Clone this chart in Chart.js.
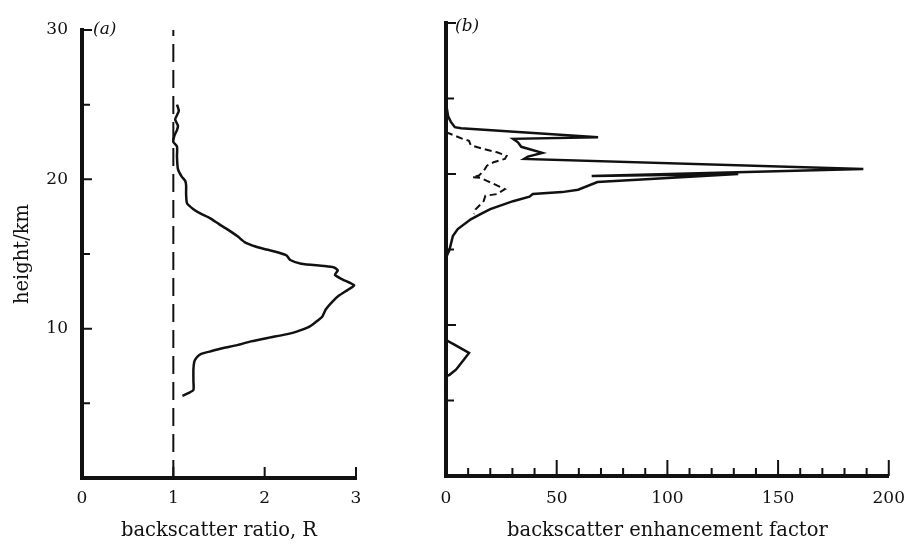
<!DOCTYPE html>
<html>
<head>
<meta charset="utf-8">
<script src="https://cdn.jsdelivr.net/npm/chart.js@4"></script>
<style>
  html, body { margin: 0; padding: 0; background: #fff; }
  #wrap { position: relative; width: 917px; height: 545px; }
  #chartA { position: absolute; left: 0; top: 0; }
  #chartB { position: absolute; left: 420px; top: 0; }
</style>
</head>
<body>
<div id="wrap">
  <canvas id="chartA" width="420" height="545"></canvas>
  <canvas id="chartB" width="497" height="545"></canvas>
</div>
<script>
// ===== DATA =====
// panel (a): backscatter ratio R against height (km) top to bottom
const ratioHeights = [25.0, 24.6, 24.3, 24.0, 23.6, 23.3, 22.9, 22.5, 22.2, 21.5, 20.7, 20.2, 19.9, 19.6, 19.0,
    18.4, 18.0, 17.7, 17.4, 17.0, 16.7, 16.2, 15.8, 15.5, 15.3, 15.1, 14.9, 14.6, 14.35, 14.2, 14.1, 13.9,
    13.6, 13.3, 12.9, 12.6, 12.2, 11.8, 11.3, 10.8, 10.4, 10.1, 9.8, 9.6, 9.4, 9.15, 8.9, 8.7, 8.5, 8.3,
    8.1, 7.8, 7.3, 6.5, 5.9, 5.7, 5.5];
const ratioValues = [1.04, 1.06, 1.04, 1.02, 1.05, 1.04, 1.01, 1.00, 1.04, 1.04, 1.05, 1.09, 1.13, 1.14, 1.14,
    1.15, 1.22, 1.30, 1.40, 1.50, 1.58, 1.70, 1.78, 1.90, 2.02, 2.15, 2.24, 2.28, 2.40, 2.65, 2.76, 2.80,
    2.77, 2.85, 2.98, 2.91, 2.81, 2.74, 2.67, 2.63, 2.55, 2.48, 2.35, 2.22, 2.05, 1.85, 1.70, 1.55, 1.42, 1.30,
    1.26, 1.23, 1.22, 1.22, 1.22, 1.17, 1.10];

// R = 1 reference line (dashed)
const unityHeights = [0, 30];
const unityValues = [1, 1];

// panel (b): backscatter enhancement factor, solid trace
const factorHeights = [25.0, 24.4, 23.8, 23.45, 23.1, 23.03, 22.44, 22.33, 22.1, 21.8, 21.4, 21.15, 21.0,
    20.33, 19.87, 20.0, 19.47, 18.96, 18.8, 18.67, 18.5, 18.2, 17.67, 17.34, 17.0, 16.35, 15.9, 15.0, 14.46,
    9.0, 8.7, 8.15, 7.6, 7.04, 6.7, 6.6];
const factorValues = [0, 0.3, 1.0, 2.2, 4.0, 6.8, 68.7, 30.3, 32.5, 34, 43.5, 37, 35.3,
    188.5, 65.8, 132, 68.4, 59.7, 52.4, 39.2, 37.7, 30.3, 20, 15.6, 11.2, 5.3, 3.1, 1.6, 0,
    0, 3.8, 10.4, 7.5, 4.5, 1.6, 0];

// panel (b): dashed trace
const factorDashHeights = [22.77, 22.55, 22.33, 22.2, 21.9, 21.66, 21.44, 21.2, 21.0, 20.78, 20.55, 20.2,
    19.9, 19.78, 19.75, 19.55, 19.0, 18.67, 18.56, 18.2, 17.67, 17.34];
const factorDashValues = [0, 3.8, 7.5, 10.4, 11.2, 17, 23, 27.4, 26.6, 21.5, 18.5, 17,
    14.9, 11.9, 15.5, 18.5, 26.6, 23, 17.8, 17, 13.4, 12.7];

// tick labels
const ratioTicks = [0, 1, 2, 3];
const heightTicks = [10, 20, 30];
const factorTicks = [0, 50, 100, 150, 200];

// ===== HELPERS =====
const FONT = 'DejaVu Serif';
const INK = '#111';

function toPoints(xs, ys) {
    return xs.map((v, i) => ({ x: v, y: ys[i] }));
}

// ticks drawn inside the plot, like the printed figure
const innerTicks = {
    id: 'innerTicks',
    afterDraw(chart, args, opts) {
        const { ctx, chartArea, scales } = chart;
        ctx.save();
        ctx.strokeStyle = INK;
        ctx.lineWidth = 2;
        ctx.beginPath();
        scales.x.ticks.forEach(t => {
            if (t.value === 0) return;
            const px = scales.x.getPixelForValue(t.value);
            const len = t.value % opts.xMajor === 0 ? opts.xLong : opts.xShort;
            ctx.moveTo(px, chartArea.bottom);
            ctx.lineTo(px, chartArea.bottom - len);
        });
        scales.y.ticks.forEach(t => {
            if (t.value === 0) return;
            const py = scales.y.getPixelForValue(t.value);
            const len = t.value % opts.yMajor === 0 ? opts.yLong : opts.yShort;
            ctx.moveTo(chartArea.left, py);
            ctx.lineTo(chartArea.left + len, py);
        });
        ctx.stroke();

        // panel letter
        ctx.fillStyle = INK;
        ctx.font = `italic 17px "${FONT}"`;
        ctx.textBaseline = 'middle';
        ctx.fillText(opts.letter, chartArea.left + opts.letterDx, chartArea.top + opts.letterDy);
        ctx.restore();
    }
};

const tickFont = { family: FONT, size: 17 };
const titleFont = { family: FONT, size: 19.5 };

// ===== PANEL (a) =====
new Chart(document.getElementById('chartA'), {
    type: 'scatter',
    data: {
        datasets: [
            {
                data: toPoints(unityValues, unityHeights),
                showLine: true,
                borderColor: INK,
                borderWidth: 2,
                borderDash: [18, 8],
                pointRadius: 0
            },
            {
                data: toPoints(ratioValues, ratioHeights),
                showLine: true,
                borderColor: INK,
                borderWidth: 2.5,
                pointRadius: 0,
                tension: 0.2
            }
        ]
    },
    options: {
        responsive: false,
        animation: false,
        events: [],
        layout: { padding: { top: 30, right: 64, bottom: 0, left: 0 } },
        plugins: {
            legend: { display: false },
            tooltip: { enabled: false },
            innerTicks: { xMajor: 1, xLong: 11, xShort: 11, yMajor: 10, yLong: 10, yShort: 8, letter: '(a)', letterDx: 11, letterDy: 0 }
        },
        scales: {
            x: {
                type: 'linear',
                min: 0,
                max: 3,
                afterFit: s => { s.height = 67; },
                grid: { display: false, drawTicks: false },
                border: { color: INK, width: 4 },
                ticks: {
                    stepSize: 1,
                    padding: 10,
                    color: INK,
                    font: tickFont,
                    maxRotation: 0,
                    autoSkip: false,
                    callback: v => ratioTicks.includes(v) ? String(v) : ''
                },
                title: { display: true, text: 'backscatter ratio, R', color: INK, font: titleFont, padding: { top: 0, bottom: 2 } }
            },
            y: {
                type: 'linear',
                min: 0,
                max: 30,
                afterFit: s => { s.width = 82; },
                grid: { display: false, drawTicks: false },
                border: { color: INK, width: 4 },
                ticks: {
                    stepSize: 5,
                    padding: 14,
                    color: INK,
                    font: tickFont,
                    autoSkip: false,
                    callback: v => heightTicks.includes(v) ? String(v) : ''
                },
                title: { display: true, text: 'height/km', color: INK, font: titleFont, padding: { top: 11, bottom: 0 } }
            }
        }
    },
    plugins: [innerTicks]
});

// ===== PANEL (b) =====
new Chart(document.getElementById('chartB'), {
    type: 'scatter',
    data: {
        datasets: [
            {
                data: toPoints(factorDashValues, factorDashHeights),
                showLine: true,
                borderColor: INK,
                borderWidth: 2,
                borderDash: [7, 4],
                pointRadius: 0
            },
            {
                data: toPoints(factorValues, factorHeights),
                showLine: true,
                borderColor: INK,
                borderWidth: 2.5,
                pointRadius: 0,
                tension: 0
            }
        ]
    },
    options: {
        responsive: false,
        animation: false,
        events: [],
        layout: { padding: { top: 23, right: 17, bottom: 0, left: 0 } },
        plugins: {
            legend: { display: false },
            tooltip: { enabled: false },
            innerTicks: { xMajor: 50, xLong: 16, xShort: 8, yMajor: 10, yLong: 10, yShort: 8, letter: '(b)', letterDx: 9, letterDy: 4 }
        },
        scales: {
            x: {
                type: 'linear',
                min: 0,
                max: 200,
                afterFit: s => { s.height = 69; },
                grid: { display: false, drawTicks: false },
                border: { color: INK, width: 4 },
                ticks: {
                    stepSize: 10,
                    padding: 12,
                    color: INK,
                    font: tickFont,
                    maxRotation: 0,
                    minRotation: 0,
                    autoSkip: false,
                    callback: v => factorTicks.includes(v) ? String(v) : ''
                },
                title: { display: true, text: 'backscatter enhancement factor', color: INK, font: titleFont, padding: { top: 0, bottom: 2 } }
            },
            y: {
                type: 'linear',
                min: 0,
                max: 30,
                afterFit: s => { s.width = 26; },
                grid: { display: false, drawTicks: false },
                border: { color: INK, width: 4 },
                ticks: {
                    stepSize: 5,
                    autoSkip: false,
                    callback: () => ''
                }
            }
        }
    },
    plugins: [innerTicks]
});
</script>
</body>
</html>
